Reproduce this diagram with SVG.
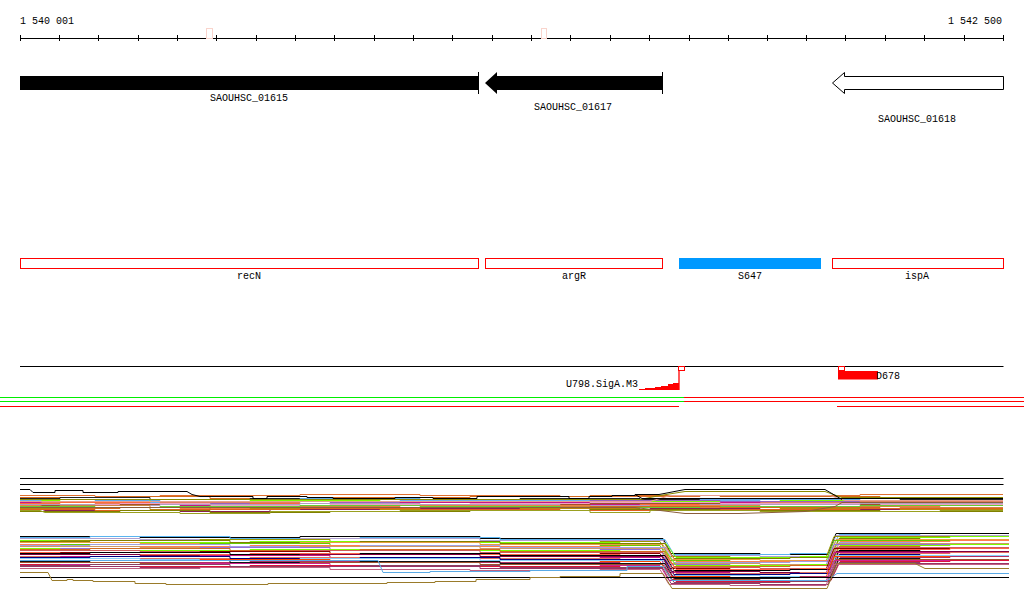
<svg xmlns="http://www.w3.org/2000/svg" width="1024" height="611" viewBox="0 0 1024 611">
<style>
text{font-family:"Liberation Mono","DejaVu Sans Mono",monospace;font-size:10px;fill:#000}
.c{text-anchor:middle}
.ax{fill:none;stroke:#000;stroke-width:1}
.feat{fill:none;stroke:#f00;stroke-width:1}
.mark{fill:#fff;stroke:#f00;stroke-width:1}
.tr{fill:none;stroke-width:1}
</style>
<defs>
<path id="b1a" d="M20,0H95V1H160V0H300V-1H420V0H560V1H700V0H860V-1H1003"/>
<path id="b1b" d="M20,0H60V-1H150V1H250V0H380V1H520V0H640V1H780V0H900V1H1003"/>
<path id="b1c" d="M20,1H120V0H210V2H330V1H470V0H590V-1H720V0H880V1H1003"/>
<path id="b1d" d="M20,0H40L45,2H180V3H270V1H400V0H590V2H650V0H760V1H940V0H1003"/>
<path id="b2a" d="M20,0H140V1H300V0H480V2H663L671,17H760V18H828L836,-3H1009"/>
<path id="b2b" d="M20,0H90V-1H230V1H360V0H500V2H665L674,17H790V16H830L839,-3H920V-2H1009"/>
<path id="b2c" d="M20,1H200V0H330V2H470V3H600V2H660L669,17H730V18H826L834,-3H1009"/>
<path id="b2d" d="M20,0H60V2H250V1H450V2H620V3H666L676,17H800V16H831L840,-3H950V-4H1009"/>
</defs>
<rect width="1024" height="611" fill="#fff"/>

<g id="ruler">
<text x="20" y="24">1 540 001</text>
<text x="1002" y="24" text-anchor="end">1 542 500</text>
<path class="ax" d="M20,38.5H1003.5"/>
<path class="ax" d="M20.5,35V41M59.5,35V41M98.5,35V41M138.5,35V41M177.5,35V41M216.5,35V41M256.5,35V41M295.5,35V41M334.5,35V41M374.5,35V41M413.5,35V41M452.5,35V41M492.5,35V41M531.5,35V41M570.5,35V41M610.5,35V41M649.5,35V41M689.5,35V41M728.5,35V41M767.5,35V41M806.5,35V41M845.5,35V41M885.5,35V41M924.5,35V41M964.5,35V41M1003.5,35V41"/>
<rect x="206.5" y="28.5" width="6" height="10" fill="none" stroke="#f9d4cc"/>
<rect x="541.5" y="28.5" width="5" height="10" fill="none" stroke="#f9d4cc"/>
</g>

<g id="gene-SAOUHSC_01615">
<rect x="20" y="76" width="458" height="14" fill="#000"/>
<path class="ax" d="M478.5,72V94"/>
<text class="c" x="249" y="101">SAOUHSC_01615</text>
</g>
<g id="gene-SAOUHSC_01617">
<polygon points="485,83 497,72 497,76 662,76 662,90 497,90 497,94" fill="#000"/>
<path class="ax" d="M662.5,72V94"/>
<text class="c" x="573" y="110">SAOUHSC_01617</text>
</g>
<g id="gene-SAOUHSC_01618">
<polygon points="832.5,83 844.5,72.5 844.5,76.5 1003.5,76.5 1003.5,89.5 844.5,89.5 844.5,93.5" fill="#fff" stroke="#000"/>
<text class="c" x="917" y="122">SAOUHSC_01618</text>
</g>

<g id="feat-recN"><rect class="feat" x="20.5" y="258.5" width="458" height="10"/><text class="c" x="249" y="279">recN</text></g>
<g id="feat-argR"><rect class="feat" x="485.5" y="258.5" width="177" height="10"/><text class="c" x="574" y="279">argR</text></g>
<g id="feat-S647"><rect x="679" y="258" width="142" height="11" fill="#0099ff"/><text class="c" x="750" y="279">S647</text></g>
<g id="feat-ispA"><rect class="feat" x="832.5" y="258.5" width="171" height="10"/><text class="c" x="917" y="279">ispA</text></g>

<g id="sites">
<path class="ax" d="M20,366.5H1003.5"/>
<g id="U798">
<path d="M679,370V390" stroke="#f00" stroke-width="1.3"/>
<polygon points="639,390 639,389 645,389 645,388 655,388 655,387 661,387 661,386 668,386 668,384 673,384 673,383 679,383 679,390" fill="#f00"/>
<rect class="mark" x="678.5" y="366.5" width="6" height="4"/>
<text x="566" y="387">U798.SigA.M3</text>
</g>
<g id="D678">
<rect x="838" y="371" width="40" height="8.5" fill="#f00"/>
<rect class="mark" x="838.5" y="366.5" width="6" height="4"/>
<text x="876" y="379">D678</text>
</g>
</g>

<g id="coverage" stroke-width="1">
<path d="M0,397.5H684M0,401.5H684" stroke="#00ee00"/>
<path d="M684,397.5H1024M684,401.5H1024M0,406.5H679M837,406.5H1024" stroke="#f00"/>
</g>

<g id="tracks" class="tr">
<path d="M20,478.5H1003.5M20,484.5H1003.5" stroke="#000"/>
<g fill="none">
<use href="#b1a" y="495.5" stroke="#e07030"/>
<use href="#b1c" y="496.5" stroke="#d2691e"/>
<use href="#b1b" y="498.5" stroke="#222"/>
<use href="#b1a" y="499.5" stroke="#5fa8e8"/>
<use href="#b1b" y="500.5" stroke="#7cfc00"/>
<use href="#b1d" y="500.5" stroke="#6ab0f0"/>
<use href="#b1c" y="501.5" stroke="#9a60c0"/>
<use href="#b1a" y="502.5" stroke="#e08060"/>
<use href="#b1d" y="502.5" stroke="#c71585"/>
<use href="#b1b" y="503.5" stroke="#ff6a3d"/>
<use href="#b1c" y="503.5" stroke="#f0a0c8"/>
<use href="#b1c" y="504.5" stroke="#a0522d"/>
<use href="#b1a" y="504.5" stroke="#b0a0c0"/>
<use href="#b1d" y="505.5" stroke="#f08040"/>
<use href="#b1b" y="506.5" stroke="#cd853f"/>
<use href="#b1a" y="506.5" stroke="#66cc33"/>
<use href="#b1c" y="507.5" stroke="#d2691e"/>
<use href="#b1d" y="508.5" stroke="#8a2050"/>
<use href="#b1b" y="508.5" stroke="#b8860b"/>
<use href="#b1a" y="509.5" stroke="#e06020"/>
<use href="#b1c" y="510.5" stroke="#808000"/>
<use href="#b1d" y="510.5" stroke="#9aa020"/>
</g>
<path d="M20,507.5H635L652,509.5L685,513.5H739L805,511.5L835,506.5L842,502.5H1003" stroke="#8b5e3c"/>
<path d="M20,501.5H650L670,495.5H830L845,500.5H1003" stroke="#e8a090"/>
<path d="M20,499.5H640L660,495.5L685,491.5H825L842,497.5H1003" stroke="#8b8b00"/>
<path d="M20,489.5H30L33,492.5H55V490.5H83V492.5H118V491.5H187L192,494.5L200,496.5H253V498.5H267V496.5H307V497.5H333V498.5H395V497.5H433V498.5H477V496.5H569V498.5H589V496.5H612V495.5H635V494.5L642,498.5H1003" stroke="#000"/>
<path d="M635,494.5H659L685,489.5H825L842,499.5" stroke="#000"/>

<g fill="none">
<use href="#b2a" y="536.5" stroke="#000"/>
<use href="#b2b" y="537.5" stroke="#5ab4f0"/>
<use href="#b2a" y="538.5" stroke="#b0a0d0"/>
<use href="#b2c" y="539.5" stroke="#999900"/>
<use href="#b2d" y="540.5" stroke="#7cfc00"/>
<use href="#b2b" y="541.5" stroke="#808000"/>
<use href="#b2a" y="542.5" stroke="#e8a040"/>
<use href="#b2c" y="543.5" stroke="#66cc00"/>
<use href="#b2d" y="544.5" stroke="#ff7f50"/>
<use href="#b2b" y="545.5" stroke="#a0a0e0"/>
<use href="#b2a" y="546.5" stroke="#cc9966"/>
<use href="#b2c" y="547.5" stroke="#9370db"/>
<use href="#b2d" y="548.5" stroke="#7cfc00"/>
<use href="#b2b" y="549.5" stroke="#d2691e"/>
<use href="#b2a" y="550.5" stroke="#cd5c5c"/>
<use href="#b2c" y="551.5" stroke="#8b0000"/>
<use href="#b2d" y="552.5" stroke="#ff6347"/>
<use href="#b2b" y="553.5" stroke="#000"/>
<use href="#b2a" y="554.5" stroke="#800040"/>
<use href="#b2c" y="555.5" stroke="#c71585"/>
<use href="#b2d" y="556.5" stroke="#e07060"/>
<use href="#b2b" y="557.5" stroke="#000080"/>
<use href="#b2a" y="558.5" stroke="#87cefa"/>
<use href="#b2c" y="559.5" stroke="#ff4500"/>
<use href="#b2d" y="560.5" stroke="#b03060"/>
<use href="#b2b" y="561.5" stroke="#111"/>
<use href="#b2a" y="562.5" stroke="#a0522d"/>
<use href="#b2c" y="563.5" stroke="#d02090"/>
<use href="#b2d" y="564.5" stroke="#dc143c"/>
<use href="#b2b" y="565.5" stroke="#8b4060"/>
<use href="#b2a" y="566.5" stroke="#993366"/>
<use href="#b2c" y="567.5" stroke="#c06080"/>
</g>
<path d="M20,560.5H378L383,572.5H430V571.5H530V570.5H627V566.5H663L672,580.5H827L837,573.5H1009" stroke="#5aaae6"/>
<path d="M20,577.5H1009" stroke="#000"/>
<path d="M20,572.5H48L52,580.5H67V579.5H73V580.5H93V581.5H135V583.5H166V584.5H268V583.5H387V582.5H435V581.5H476V579.5H530V577.5H560V576.5H620V573.5H663L672,588.5H827L837,563.5H915L925,568.5H1009" stroke="#9a7b2a"/>
</g>
</svg>
